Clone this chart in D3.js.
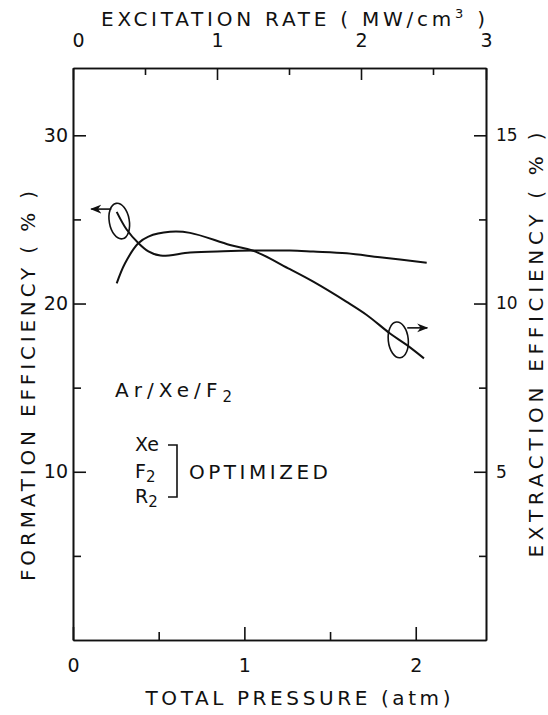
<!DOCTYPE html>
<html>
<head>
<meta charset="utf-8">
<script src="https://cdn.jsdelivr.net/npm/d3@7"></script>
<style>
  body { margin: 0; background: #fff; }
  text { font-family: "DejaVu Sans", sans-serif; fill: #111; }
</style>
</head>
<body>
<div class="chart"></div>
<script>
// values
var formationPressure = [0.255, 0.313, 0.381, 0.44, 0.51, 0.683, 0.877, 1.052, 1.266, 1.402, 1.597, 1.791, 2.064];
var formationEff = [25.45, 24.4, 23.6, 23.1, 22.85, 23.03, 23.11, 23.15, 23.15, 23.09, 22.99, 22.75, 22.43];

var extractionPressure = [0.255, 0.303, 0.381, 0.44, 0.566, 0.683, 0.916, 1.052, 1.266, 1.402, 1.597, 1.714, 1.85, 1.947, 2.048];
var extractionEff = [10.6, 11.19, 11.79, 11.99, 12.13, 12.1, 11.74, 11.57, 11.02, 10.65, 10.05, 9.66, 9.11, 8.77, 8.37];

var pressureTicks = [0, 1, 2], pressureMinor = [0.5, 1.5];
var rateTicks = [0, 1, 2, 3], rateMinor = [0.5, 1.5, 2.5];
var formationTicks = [10, 20, 30], formationMinor = [5, 15, 25];
var extractionTicks = [5, 10, 15], extractionMinor = [2.5, 7.5, 12.5];

var width = 548, height = 715;
var mLeft = 73, mRight = 486, mTop = 68, mBottom = 640;

var svg = d3.select(".chart")
  .append("svg")
    .attr("width", width)
    .attr("height", height);

var x = d3.scaleLinear().domain([0, 2.41]).range([mLeft, mRight]);
// the top scale of the original is hand drawn, not quite linear
var xTop = d3.scaleLinear().domain([0, 2.5, 3]).range([mLeft, 433, mRight]);
var yL = d3.scaleLinear().domain([0, 34]).range([mBottom, mTop]);
var yR = d3.scaleLinear().domain([0, 17]).range([mBottom, mTop]);

function styleAxis(g, size) {
  g.selectAll("path, line").attr("stroke", "#111").attr("stroke-width", 1.6);
  g.selectAll("text").attr("font-size", size).attr("font-family", "DejaVu Sans").attr("fill", "#111");
}

// bottom
svg.append("g").attr("transform", "translate(0," + mBottom + ")")
  .call(d3.axisBottom(x).tickValues(pressureTicks).tickSizeInner(-13).tickSizeOuter(0).tickPadding(19).tickFormat(d3.format("d")))
  .call(g => styleAxis(g, 19));
svg.append("g").attr("transform", "translate(0," + mBottom + ")")
  .call(d3.axisBottom(x).tickValues(pressureMinor).tickSizeInner(-8).tickSizeOuter(0).tickFormat(""))
  .call(g => styleAxis(g, 19));

// top
svg.append("g").attr("transform", "translate(0," + mTop + ")")
  .call(d3.axisTop(xTop).tickValues(rateTicks).tickSizeInner(-12).tickSizeOuter(0).tickPadding(21).tickFormat(d3.format("d")))
  .call(g => styleAxis(g, 19))
  .call(g => g.selectAll(".tick text").filter(d => d === 0).attr("dx", 5));
svg.append("g").attr("transform", "translate(0," + mTop + ")")
  .call(d3.axisTop(xTop).tickValues(rateMinor).tickSizeInner(-7).tickSizeOuter(0).tickFormat(""))
  .call(g => styleAxis(g, 19));

// left
svg.append("g").attr("transform", "translate(" + mLeft + ",0)")
  .call(d3.axisLeft(yL).tickValues(formationTicks).tickSizeInner(-13).tickSizeOuter(0).tickPadding(5))
  .call(g => styleAxis(g, 19));
svg.append("g").attr("transform", "translate(" + mLeft + ",0)")
  .call(d3.axisLeft(yL).tickValues(formationMinor).tickSizeInner(-8).tickSizeOuter(0).tickFormat(""))
  .call(g => styleAxis(g, 19));

// right
svg.append("g").attr("transform", "translate(" + mRight + ",0)")
  .call(d3.axisRight(yR).tickValues(extractionTicks).tickSizeInner(-12).tickSizeOuter(0).tickPadding(10))
  .call(g => styleAxis(g, 17));
svg.append("g").attr("transform", "translate(" + mRight + ",0)")
  .call(d3.axisRight(yR).tickValues(extractionMinor).tickSizeInner(-7).tickSizeOuter(0).tickFormat(""))
  .call(g => styleAxis(g, 17));

// curves
var lineL = d3.line().x((d, i) => x(formationPressure[i])).y(d => yL(d)).curve(d3.curveCatmullRom);
var lineR = d3.line().x((d, i) => x(extractionPressure[i])).y(d => yR(d)).curve(d3.curveCatmullRom);

svg.append("path").datum(formationEff)
  .attr("d", lineL).attr("fill", "none").attr("stroke", "#111").attr("stroke-width", 2);
svg.append("path").datum(extractionEff)
  .attr("d", lineR).attr("fill", "none").attr("stroke", "#111").attr("stroke-width", 2);

// circles with arrows telling which axis a curve belongs to
svg.append("defs").append("marker")
  .attr("id", "head").attr("viewBox", "0 0 10 10").attr("refX", 9).attr("refY", 5)
  .attr("markerWidth", 7).attr("markerHeight", 7).attr("orient", "auto")
  .append("path").attr("d", "M0,1 L10,5 L0,9 L3,5 Z").attr("fill", "#111");

var lc = [x(0.27), yL(24.9)];
svg.append("ellipse").attr("cx", lc[0]).attr("cy", lc[1]).attr("rx", 10).attr("ry", 18)
  .attr("transform", "rotate(-10," + lc[0] + "," + lc[1] + ")")
  .attr("fill", "none").attr("stroke", "#111").attr("stroke-width", 1.6);
svg.append("line").attr("x1", lc[0] - 8).attr("y1", lc[1] - 12).attr("x2", lc[0] - 28).attr("y2", lc[1] - 12)
  .attr("stroke", "#111").attr("stroke-width", 1.6).attr("marker-end", "url(#head)");

var rc = [x(1.898), yR(8.92)];
svg.append("ellipse").attr("cx", rc[0]).attr("cy", rc[1]).attr("rx", 10).attr("ry", 18)
  .attr("transform", "rotate(-6," + rc[0] + "," + rc[1] + ")")
  .attr("fill", "none").attr("stroke", "#111").attr("stroke-width", 1.6);
svg.append("line").attr("x1", rc[0] + 9).attr("y1", rc[1] - 12).attr("x2", rc[0] + 29).attr("y2", rc[1] - 12)
  .attr("stroke", "#111").attr("stroke-width", 1.6).attr("marker-end", "url(#head)");

// axis titles
var tTop = svg.append("text").attr("x", 293).attr("y", 26).attr("text-anchor", "middle")
  .attr("font-size", 20).attr("textLength", 384).attr("lengthAdjust", "spacing");
tTop.append("tspan").text("EXCITATION RATE ( MW/cm");
tTop.append("tspan").attr("dy", -8).attr("font-size", 13).text("3");
tTop.append("tspan").attr("dy", 8).text(" )");

svg.append("text").attr("x", 298).attr("y", 705).attr("text-anchor", "middle")
  .attr("font-size", 20).attr("textLength", 305).attr("lengthAdjust", "spacing")
  .text("TOTAL PRESSURE (atm)");

svg.append("text").attr("transform", "translate(35,386) rotate(-90)").attr("text-anchor", "middle")
  .attr("font-size", 20).attr("textLength", 390).attr("lengthAdjust", "spacing")
  .text("FORMATION EFFICIENCY ( % )");

svg.append("text").attr("transform", "translate(543,345) rotate(-90)").attr("text-anchor", "middle")
  .attr("font-size", 20).attr("textLength", 425).attr("lengthAdjust", "spacing")
  .text("EXTRACTION EFFICIENCY ( % )");

// gas mixture notes
var mix = svg.append("text").attr("x", 115).attr("y", 397).attr("font-size", 20)
  .attr("textLength", 117).attr("lengthAdjust", "spacing");
mix.append("tspan").text("Ar/Xe/F");
mix.append("tspan").attr("dy", 5).attr("font-size", 15).text("2");

var opt = svg.append("g");
opt.append("text").attr("x", 135).attr("y", 451).attr("font-size", 19).text("Xe");
var f2 = opt.append("text").attr("x", 135).attr("y", 478).attr("font-size", 19);
f2.append("tspan").text("F");
f2.append("tspan").attr("dy", 4).attr("font-size", 15).text("2");
var r2 = opt.append("text").attr("x", 135).attr("y", 503).attr("font-size", 19);
r2.append("tspan").text("R");
r2.append("tspan").attr("dy", 4).attr("font-size", 15).text("2");
svg.append("path").attr("d", "M168,445 H177 V497 H168").attr("fill", "none")
  .attr("stroke", "#111").attr("stroke-width", 1.6);
svg.append("text").attr("x", 189).attr("y", 479).attr("font-size", 20)
  .attr("textLength", 139).attr("lengthAdjust", "spacing").text("OPTIMIZED");
</script>
</body>
</html>
